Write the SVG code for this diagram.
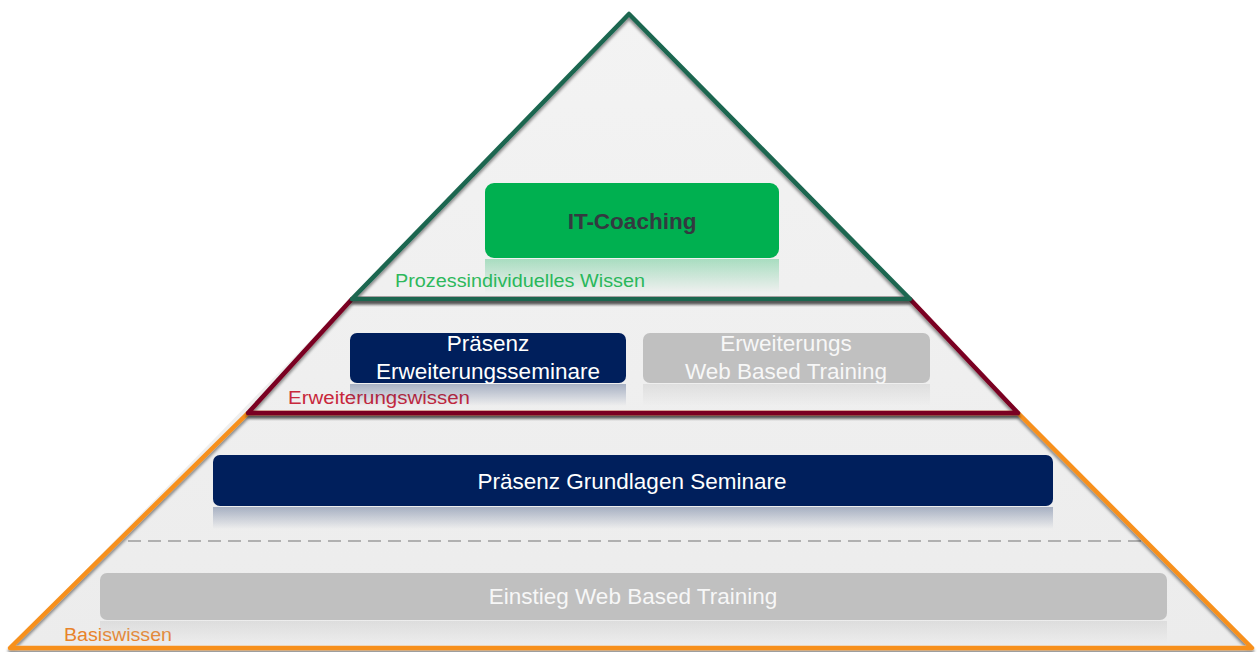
<svg xmlns="http://www.w3.org/2000/svg" width="1259" height="652" viewBox="0 0 1259 652">
<defs>
<linearGradient id="body" x1="0" y1="0" x2="0" y2="1">
<stop offset="0" stop-color="#f3f3f3"/>
<stop offset="1" stop-color="#ececec"/>
</linearGradient>
<linearGradient id="reflGreen" x1="0" y1="0" x2="0" y2="1">
<stop offset="0" stop-color="#00b050" stop-opacity="0.3"/>
<stop offset="1" stop-color="#00b050" stop-opacity="0"/>
</linearGradient>
<linearGradient id="reflNavy" x1="0" y1="0" x2="0" y2="1">
<stop offset="0" stop-color="#001f5c" stop-opacity="0.3"/>
<stop offset="1" stop-color="#001f5c" stop-opacity="0"/>
</linearGradient>
<linearGradient id="reflGray" x1="0" y1="0" x2="0" y2="1">
<stop offset="0" stop-color="#c0c0c0" stop-opacity="0.35"/>
<stop offset="1" stop-color="#c0c0c0" stop-opacity="0"/>
</linearGradient>
<filter id="sh" x="-5%" y="-5%" width="110%" height="115%">
<feGaussianBlur in="SourceAlpha" stdDeviation="1.5"/>
<feOffset dx="0" dy="3"/>
<feComponentTransfer><feFuncA type="linear" slope="0.45"/></feComponentTransfer>
<feMerge><feMergeNode/><feMergeNode in="SourceGraphic"/></feMerge>
</filter>
</defs>
<style>
.lbl{font-family:"Liberation Sans Narrow","Liberation Sans",Arial,sans-serif;font-size:18px}
.box{font-family:"Liberation Sans",Arial,sans-serif;font-size:22.5px;text-anchor:middle}
.edge{fill:none;stroke-width:4.5;stroke-linejoin:round;stroke-linecap:round}
</style>
<rect width="1259" height="652" fill="#ffffff"/>

<polygon points="629,14 1252,648 10,648" fill="url(#body)"/>

<g id="connectors">
<line x1="128" y1="541" x2="1142" y2="541" stroke="#b0b0b0" stroke-width="2" stroke-dasharray="13,7"/>
</g>

<g id="layer-basis">
<polygon class="edge" points="248,413 1018,413 1252,648 10,648" stroke="#f7901e" filter="url(#sh)"/>
<text class="lbl" x="64" y="641" fill="#e8832a" textLength="108" lengthAdjust="spacingAndGlyphs">Basiswissen</text>
</g>

<g id="layer-erweiterung">
<polygon class="edge" points="352,299 910,299 1018,413 248,413" stroke="#7a0020" filter="url(#sh)"/>
<text class="lbl" x="288" y="404" fill="#c8283c" textLength="182" lengthAdjust="spacingAndGlyphs">Erweiterungswissen</text>
</g>

<g id="layer-prozess">
<polygon class="edge" points="629,14 910,299 352,299" stroke="#1a6650" filter="url(#sh)"/>
<text class="lbl" x="395" y="287" fill="#2eb85c" textLength="250" lengthAdjust="spacingAndGlyphs">Prozessindividuelles Wissen</text>
</g>

<g id="it-coaching">
<rect x="485" y="259" width="294" height="34" fill="url(#reflGreen)"/>
<rect x="485" y="183" width="294" height="75" rx="9" fill="#00b050"/>
<text class="box" x="632" y="229" fill="#333a40" font-weight="bold">IT-Coaching</text>
</g>

<g id="praesenz-erweiterung">
<rect x="350" y="384" width="276" height="22" fill="url(#reflNavy)"/>
<rect x="350" y="333" width="276" height="50" rx="7" fill="#001f5c"/>
<text class="box" x="488" y="351" fill="#ffffff" font-size="22">Präsenz</text>
<text class="box" x="488" y="379" fill="#ffffff" font-size="22">Erweiterungsseminare</text>
</g>

<g id="erweiterung-wbt">
<rect x="643" y="384" width="287" height="22" fill="url(#reflGray)"/>
<rect x="643" y="333" width="287" height="50" rx="7" fill="#c0c0c0"/>
<text class="box" x="786" y="351" fill="#f7f7f7" font-size="22">Erweiterungs</text>
<text class="box" x="786" y="379" fill="#f7f7f7" font-size="22">Web Based Training</text>
</g>

<g id="praesenz-grundlagen">
<rect x="213" y="507" width="840" height="22" fill="url(#reflNavy)"/>
<rect x="213" y="455" width="840" height="51" rx="7" fill="#001f5c"/>
<text class="box" x="632" y="489" fill="#ffffff">Präsenz Grundlagen Seminare</text>
</g>

<g id="einstieg-wbt">
<rect x="100" y="621" width="1067" height="22" fill="url(#reflGray)"/>
<rect x="100" y="573" width="1067" height="47" rx="7" fill="#c0c0c0"/>
<text class="box" x="633" y="604" fill="#f7f7f7">Einstieg Web Based Training</text>
</g>
</svg>
